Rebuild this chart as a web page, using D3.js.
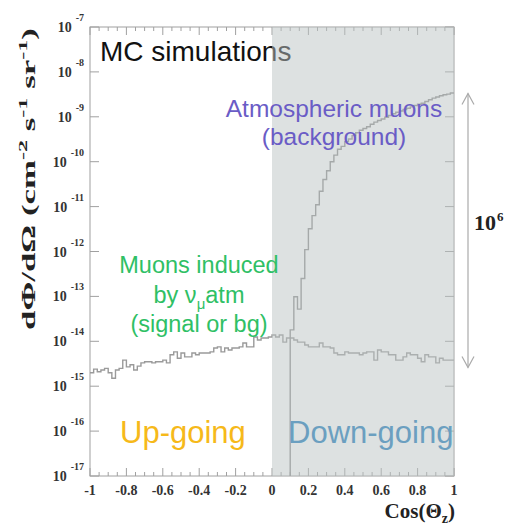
<!DOCTYPE html>
<html><head><meta charset="utf-8">
<script src="https://cdn.jsdelivr.net/npm/d3@7"></script>
<style>body{margin:0;background:#fff}</style>
</head><body><svg id="c" width="508" height="532"></svg>
<script>
// ---------- data ----------
const xTickValues = [-1,-0.8,-0.6,-0.4,-0.2,0,0.2,0.4,0.6,0.8,1];
const xTickLabels = ["-1","-0.8","-0.6","-0.4","-0.2","0","0.2","0.4","0.6","0.8","1"];
const yTickExponents = [-17,-16,-15,-14,-13,-12,-11,-10,-9,-8,-7];

const binWidth = 0.02;
// muons induced by atmospheric numu (100 bins from -1 to 1)
const nuStart = -1;
const nuValues = [
  2.0e-15,2.4e-15,2.1e-15,2.3e-15,2.5e-15,2.0e-15,1.5e-15,2.3e-15,2.5e-15,3.8e-15,
  2.7e-15,3.0e-15,2.3e-15,2.8e-15,3.3e-15,3.5e-15,3.5e-15,3.3e-15,3.5e-15,3.5e-15,
  3.8e-15,3.3e-15,5.0e-15,5.8e-15,4.2e-15,5.5e-15,4.5e-15,4.5e-15,5.5e-15,5.0e-15,
  5.5e-15,5.5e-15,5.5e-15,5.8e-15,7.1e-15,7.5e-15,5.8e-15,7.1e-15,6.4e-15,7.1e-15,
  7.1e-15,7.5e-15,9.2e-15,7.5e-15,7.5e-15,1.25e-14,1.07e-14,1.18e-14,1.18e-14,1.25e-14,
  1.38e-14,1.25e-14,1.38e-14,9.6e-15,1.18e-14,1.18e-14,1.07e-14,9.6e-15,9.6e-15,8.3e-15,
  7.5e-15,7.5e-15,7.5e-15,9.2e-15,7.5e-15,7.5e-15,7.1e-15,5.5e-15,5.0e-15,5.0e-15,
  5.8e-15,5.5e-15,5.5e-15,5.5e-15,5.0e-15,5.5e-15,5.8e-15,5.8e-15,3.8e-15,6.4e-15,
  5.8e-15,5.8e-15,5.0e-15,5.0e-15,3.8e-15,3.8e-15,4.5e-15,5.5e-15,5.0e-15,5.0e-15,
  4.2e-15,3.5e-15,5.0e-15,4.5e-15,4.5e-15,3.3e-15,4.2e-15,3.8e-15,3.8e-15,3.8e-15
];
// atmospheric muons (zero below cos = 0.10)
const atmStart = 0.10;
const atmValues = [
  1.8e-14,9.8e-14,5.2e-14,2.5e-13,1.1e-12,3.2e-12,6.3e-12,1.1e-11,2.2e-11,4.0e-11,
  6.3e-11,1.0e-10,1.4e-10,1.9e-10,2.2e-10,2.8e-10,3.2e-10,3.8e-10,4.4e-10,5.0e-10,
  5.5e-10,6.0e-10,6.8e-10,7.6e-10,8.3e-10,8.9e-10,9.8e-10,1.07e-9,1.17e-9,1.26e-9,
  1.35e-9,1.45e-9,1.55e-9,1.66e-9,1.78e-9,1.9e-9,2.0e-9,2.2e-9,2.4e-9,2.6e-9,
  2.75e-9,2.95e-9,3.1e-9,3.2e-9,3.4e-9
];
const arrowTop = 3.3e-9, arrowBottom = 2.6e-15;

// ---------- layout ----------
const L = 90, R = 454, T = 27, B = 476;
const svg = d3.select("#c");
const x = d3.scaleLinear().domain([-1, 1]).range([L, R]);
const y = d3.scaleLog().domain([1e-17, 1e-7]).range([B, T]);
const serif = "'Liberation Serif','Times New Roman',serif";
const sans = "'Liberation Sans',Arial,Helvetica,sans-serif";
const axisCol = "#a0a0a0";

// frame
svg.append("rect").attr("x", L).attr("y", T).attr("width", R - L).attr("height", B - T)
  .attr("fill", "none").attr("stroke", axisCol).attr("stroke-width", 1);

// x ticks (major 0.2, minor 0.05), bottom and top, inward
const xMinor = d3.range(0, 41).map(i => -1 + i * 0.05);
const tk = svg.append("g").attr("stroke", axisCol).attr("stroke-width", 1);
xMinor.forEach(v => {
  const major = xTickValues.some(t => Math.abs(t - v) < 1e-9);
  const len = major ? 8 : 4;
  tk.append("line").attr("x1", x(v)).attr("x2", x(v)).attr("y1", B).attr("y2", B - len);
  tk.append("line").attr("x1", x(v)).attr("x2", x(v)).attr("y1", T).attr("y2", T + len);
});
// y ticks (log), left and right
y.ticks().forEach(v => {
  const major = Math.abs(Math.log10(v) - Math.round(Math.log10(v))) < 1e-9;
  const len = major ? 9 : 4.5;
  tk.append("line").attr("x1", L).attr("x2", L + len).attr("y1", y(v)).attr("y2", y(v));
  tk.append("line").attr("x1", R).attr("x2", R - len).attr("y1", y(v)).attr("y2", y(v));
});

// x tick labels
svg.append("g").selectAll("text").data(xTickValues).join("text")
  .attr("x", d => x(d)).attr("y", 495).attr("text-anchor", "middle")
  .attr("font-family", serif).attr("font-weight", "bold").attr("font-size", 14)
  .attr("fill", "#333").text((d, i) => xTickLabels[i]);

// y tick labels 10^e
const yl = svg.append("g").selectAll("text").data(yTickExponents).join("text")
  .attr("x", 84).attr("y", d => y(Math.pow(10, d)) + 5).attr("text-anchor", "end")
  .attr("font-family", serif).attr("font-weight", "bold").attr("font-size", 14).attr("fill", "#333");
yl.append("tspan").text("10");
yl.append("tspan").attr("dx", 4).attr("dy", -11).attr("font-size", 10).text(d => String(d));

// axis titles
const xt = svg.append("text").attr("x", 455).attr("y", 518).attr("text-anchor", "end")
  .attr("font-family", serif).attr("font-weight", "bold").attr("font-size", 21).attr("fill", "#222");
xt.append("tspan").text("Cos(\u0398");
xt.append("tspan").attr("dy", 5).attr("font-size", 14).text("z");
xt.append("tspan").attr("dy", -5).text(")");

const ytG = svg.append("g").attr("transform", "translate(35,179) rotate(-90)");
const yt = ytG.append("text").attr("text-anchor", "middle")
  .attr("font-family", serif).attr("font-weight", "bold").attr("font-size", 18).attr("fill", "#222");
yt.append("tspan").text("d\u03A6/d\u03A9 (cm");
yt.append("tspan").attr("dy", -8).attr("font-size", 12.5).text("-2");
yt.append("tspan").attr("dy", 8).text(" s");
yt.append("tspan").attr("dy", -8).attr("font-size", 12.5).text("-1");
yt.append("tspan").attr("dy", 8).text(" sr");
yt.append("tspan").attr("dy", -8).attr("font-size", 12.5).text("-1");
yt.append("tspan").attr("dy", 8).text(")");
const ytw = yt.node().getBBox().width;
yt.attr("transform", `scale(${302 / ytw},1)`);

// histograms
function stepPoints(start, vals) {
  const pts = vals.map((v, i) => [start + i * binWidth, v]);
  pts.push([start + vals.length * binWidth, vals[vals.length - 1]]);
  return pts;
}
const line = d3.line().x(d => x(d[0])).y(d => y(d[1])).curve(d3.curveStepAfter);
svg.append("path").attr("d", line(stepPoints(nuStart, nuValues)))
  .attr("fill", "none").attr("stroke", "#9a9a9a").attr("stroke-width", 1.4);
const atmPts = [[atmStart, 1e-17]].concat(stepPoints(atmStart, atmValues));
svg.append("path").attr("d", line(atmPts))
  .attr("fill", "none").attr("stroke", "#8e8e8e").attr("stroke-width", 1.4);

// MC simulations label (inside the figure)
svg.append("text").attr("x", 100).attr("y", 61).attr("font-family", sans)
  .attr("font-size", 28).attr("fill", "#111").text("MC simulations");

// gray down-going overlay
svg.append("rect").attr("x", x(0)).attr("y", T).attr("width", x(1) - x(0)).attr("height", B - T)
  .attr("fill", "#bcc4c4").attr("opacity", 0.5);

// annotations
function ann(tx, ty, txt, size, col, anchor) {
  return svg.append("text").attr("x", tx).attr("y", ty).attr("text-anchor", anchor || "middle")
    .attr("font-family", sans).attr("font-size", size).attr("fill", col).text(txt);
}
ann(334, 117, "Atmospheric muons", 24.5, "#6a5cc6");
ann(334, 145, "(background)", 24.5, "#6a5cc6");
ann(199, 273, "Muons induced", 23.5, "#2fc065");
const by = svg.append("text").attr("x", 199).attr("y", 303).attr("text-anchor", "middle")
  .attr("font-family", sans).attr("font-size", 23.5).attr("fill", "#2fc065");
by.append("tspan").text("by \u03BD");
by.append("tspan").attr("dy", 6).attr("font-size", 15).text("\u03BC");
by.append("tspan").attr("dy", -6).text("atm");
ann(199, 332, "(signal or bg)", 23.5, "#2fc065");
ann(120, 443, "Up-going", 31, "#f6b91a", "start");
ann(288, 443, "Down-going", 31, "#6b9fc0", "start");

// 10^6 arrow
const ax = 468, ya = y(arrowTop), yb = y(arrowBottom);
const ag = svg.append("g").attr("stroke", "#aaa").attr("stroke-width", 1.2).attr("fill", "none");
ag.append("line").attr("x1", ax).attr("x2", ax).attr("y1", ya).attr("y2", yb);
ag.append("polyline").attr("points", `${ax-6},${ya+11} ${ax},${ya} ${ax+6},${ya+11}`);
ag.append("polyline").attr("points", `${ax-6},${yb-11} ${ax},${yb} ${ax+6},${yb-11}`);
const sx = svg.append("text").attr("x", 474).attr("y", 230)
  .attr("font-family", serif).attr("font-weight", "bold").attr("font-size", 22).attr("fill", "#222");
sx.append("tspan").text("10");
sx.append("tspan").attr("dx", 1).attr("dy", -9).attr("font-size", 13).text("6");
</script></body></html>
